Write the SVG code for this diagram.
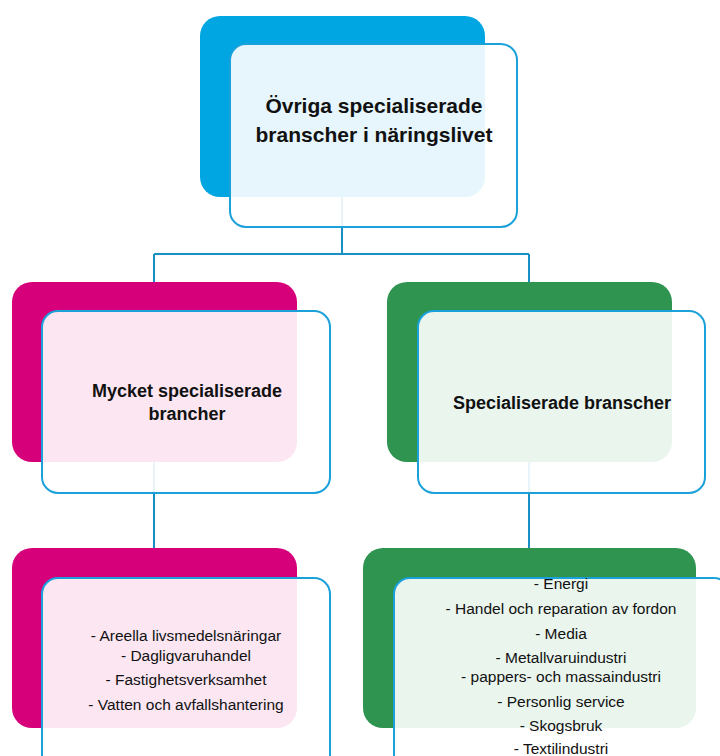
<svg xmlns="http://www.w3.org/2000/svg" width="720" height="756" viewBox="0 0 720 756">
<style>
.front{fill:#ffffff;fill-opacity:0.9;stroke:#1ba1da;stroke-width:2}
.conn{fill:none;stroke:#1a8fc4;stroke-width:2}
.t{font-family:"Liberation Sans",Arial,sans-serif;fill:#111;text-anchor:middle}
.b{font-weight:bold}
.title{font-size:21px}
.mid{font-size:18px}
.item{font-size:15.5px}
</style>
<rect width="720" height="756" fill="#ffffff"/>
<g id="connectors">
<path class="conn" d="M342,197 V254 M154,254 H529 M154,254 V282 M529,254 V282"/>
<path class="conn" d="M154,462 V548"/>
<path class="conn" d="M529,462 V548"/>
</g>
<g id="node-top">
<rect x="200" y="16" width="285" height="181" rx="20" fill="#00a6e2"/>
<rect class="front" x="230" y="44" width="287" height="183" rx="16"/>
<text class="t b title" x="374" y="113">Övriga specialiserade</text>
<text class="t b title" x="374" y="142">branscher i näringslivet</text>
</g>
<g id="node-mycket">
<rect x="12" y="282" width="285" height="180" rx="20" fill="#d6007a"/>
<rect class="front" x="42" y="311" width="288" height="182" rx="16"/>
<text class="t b mid" x="187" y="397">Mycket specialiserade</text>
<text class="t b mid" x="187" y="420">brancher</text>
</g>
<g id="node-spec">
<rect x="387" y="282" width="285" height="180" rx="20" fill="#2e9450"/>
<rect class="front" x="418" y="311" width="287" height="182" rx="16"/>
<text class="t b mid" x="562" y="409">Specialiserade branscher</text>
</g>
<g id="node-mycket-list">
<rect x="12" y="548" width="285" height="180" rx="20" fill="#d6007a"/>
<rect class="front" x="42" y="578" width="288" height="200" rx="16"/>
<text class="t item" x="186" y="641">- Areella livsmedelsnäringar</text>
<text class="t item" x="186" y="661">- Dagligvaruhandel</text>
<text class="t item" x="186" y="685">- Fastighetsverksamhet</text>
<text class="t item" x="186" y="710">- Vatten och avfallshantering</text>
</g>
<g id="node-spec-list">
<rect x="363" y="548" width="333" height="180" rx="20" fill="#2e9450"/>
<rect class="front" x="394" y="578" width="336" height="200" rx="16"/>
<text class="t item" x="561" y="589">- Energi</text>
<text class="t item" x="561" y="614">- Handel och reparation av fordon</text>
<text class="t item" x="561" y="639">- Media</text>
<text class="t item" x="561" y="663">- Metallvaruindustri</text>
<text class="t item" x="561" y="682">- pappers- och massaindustri</text>
<text class="t item" x="561" y="707">- Personlig service</text>
<text class="t item" x="561" y="731">- Skogsbruk</text>
<text class="t item" x="561" y="754">- Textilindustri</text>
</g>
</svg>
